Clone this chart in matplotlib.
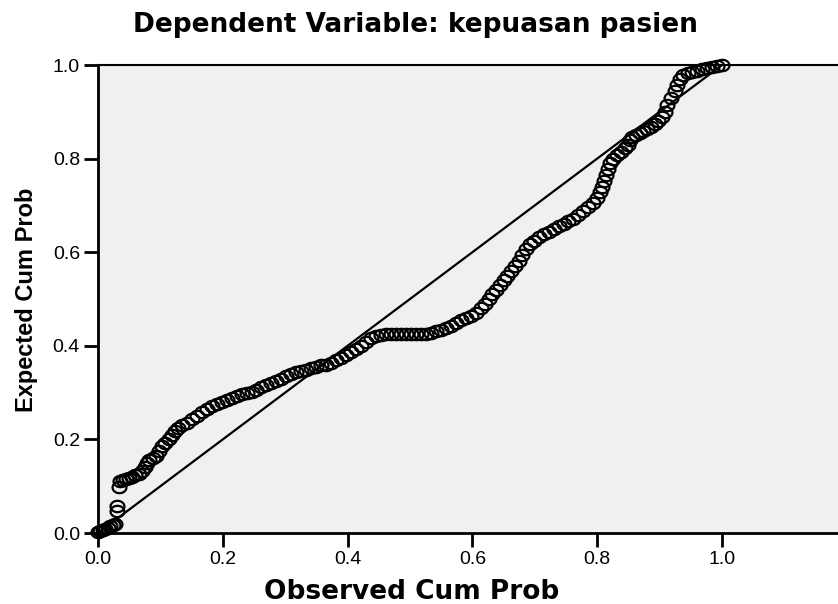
import numpy as np
import matplotlib
matplotlib.use("Agg")
import matplotlib.pyplot as plt
from matplotlib.path import Path

title = "Dependent Variable: kepuasan pasien"
xlabel = "Observed Cum Prob"
ylabel = "Expected Cum Prob"
tick_values = [0.0, 0.2, 0.4, 0.6, 0.8, 1.0]
tick_labels = ["0.0", "0.2", "0.4", "0.6", "0.8", "1.0"]

observed = [
    0.000, 0.004, 0.008, 0.012, 0.016, 0.020, 0.024, 0.028,
    0.030, 0.031, 0.034,
    0.036, 0.040, 0.045, 0.050, 0.055, 0.060, 0.065, 0.070, 0.075, 0.078,
    0.082, 0.088, 0.093, 0.098, 0.103, 0.108, 0.113, 0.118, 0.123, 0.128,
    0.135, 0.142, 0.150, 0.158, 0.166, 0.174, 0.182, 0.190, 0.198, 0.206,
    0.214, 0.222, 0.230, 0.238, 0.246, 0.254, 0.262, 0.270, 0.278, 0.286,
    0.294, 0.302, 0.310, 0.318, 0.326, 0.334, 0.342, 0.350, 0.358, 0.366,
    0.374, 0.382, 0.390, 0.398, 0.406, 0.414, 0.422, 0.430, 0.438, 0.446,
    0.454, 0.462, 0.470, 0.478, 0.486, 0.494, 0.502, 0.510, 0.518, 0.526,
    0.534, 0.542, 0.550, 0.558, 0.566, 0.574, 0.582, 0.590, 0.598, 0.606,
    0.614, 0.620, 0.626, 0.632, 0.638, 0.644, 0.650, 0.656, 0.662, 0.668,
    0.674, 0.680, 0.686, 0.692, 0.698, 0.706, 0.714, 0.722, 0.730, 0.738,
    0.746, 0.754, 0.762, 0.770, 0.778, 0.786, 0.794, 0.800, 0.804, 0.808,
    0.811, 0.814, 0.817, 0.821, 0.826, 0.832, 0.838, 0.845, 0.850, 0.852,
    0.856, 0.862, 0.868, 0.874, 0.880, 0.886, 0.892, 0.898, 0.904, 0.908,
    0.912, 0.918, 0.924, 0.928, 0.932, 0.938, 0.945, 0.952, 0.960, 0.968,
    0.976, 0.984, 0.992, 1.000,
]
expected = [
    0.002, 0.004, 0.006, 0.009, 0.011, 0.014, 0.017, 0.020,
    0.047, 0.058, 0.098,
    0.112, 0.114, 0.116, 0.118, 0.120, 0.123, 0.127, 0.132, 0.140, 0.150,
    0.157, 0.160, 0.165, 0.175, 0.185, 0.192, 0.200, 0.210, 0.218, 0.225,
    0.230, 0.236, 0.243, 0.250, 0.258, 0.265, 0.272, 0.276, 0.280, 0.284,
    0.288, 0.292, 0.296, 0.299, 0.302, 0.306, 0.311, 0.316, 0.320, 0.325,
    0.330, 0.335, 0.339, 0.343, 0.346, 0.349, 0.352, 0.355, 0.358, 0.360,
    0.364, 0.369, 0.375, 0.381, 0.387, 0.393, 0.400, 0.408, 0.416, 0.421,
    0.424, 0.425, 0.425, 0.425, 0.425, 0.425, 0.425, 0.425, 0.425, 0.426,
    0.428, 0.431, 0.434, 0.437, 0.442, 0.448, 0.455, 0.460, 0.464, 0.470,
    0.480, 0.490, 0.500, 0.510, 0.520, 0.530, 0.540, 0.550, 0.560, 0.570,
    0.582, 0.595, 0.607, 0.617, 0.625, 0.632, 0.638, 0.644, 0.650, 0.655,
    0.660, 0.666, 0.672, 0.680, 0.688, 0.696, 0.705, 0.716, 0.728, 0.740,
    0.752, 0.765, 0.778, 0.790, 0.800, 0.808, 0.814, 0.822, 0.830, 0.840,
    0.846, 0.850, 0.854, 0.858, 0.863, 0.868, 0.874, 0.880, 0.888, 0.900,
    0.915, 0.930, 0.945, 0.958, 0.970, 0.978, 0.982, 0.985, 0.988, 0.991,
    0.994, 0.996, 0.998, 1.000,
]

fig = plt.figure(figsize=(8.38, 6.04), dpi=100)
ax = fig.add_axes([98 / 838, 1 - 533 / 604, 1 - 98 / 838, (533 - 65) / 604])
ax.set_facecolor("#F0F0F0")

# slightly flattened circle marker
t = np.linspace(0, 2 * np.pi, 60)
verts = np.column_stack([np.cos(t), 0.82 * np.sin(t)])
ell = Path(verts, closed=True)

ax.plot([0, 1], [0, 1], color="black", lw=1.6, zorder=2)
ax.plot(observed, expected, linestyle="none", marker=ell, markersize=10,
        markerfacecolor="none", markeredgecolor="black", markeredgewidth=1.6,
        zorder=3, clip_on=False)

ax.set_xlim(0, (838 - 98) / 624)
ax.set_ylim(0, 1.0)
ax.set_xticks(tick_values)
ax.set_xticklabels(tick_labels)
ax.set_yticks(tick_values)
ax.set_yticklabels(tick_labels)
ax.tick_params(direction="out", length=10, width=2, labelsize=14, pad=3,
               colors="black")
for lab in ax.get_xticklabels() + ax.get_yticklabels():
    lab.set_family("Liberation Sans")
for s in ["left", "bottom"]:
    ax.spines[s].set_linewidth(2)
ax.spines["top"].set_linewidth(1.5)
ax.spines["right"].set_visible(False)

fig.text((105 + 725) / 2 / 838, 1 - 25 / 604, title, ha="center", va="center",
         fontsize=19, fontweight="bold", family="DejaVu Sans")
fig.text((258 + 566) / 2 / 838, 1 - 592 / 604, xlabel, ha="center", va="center",
         fontsize=19, fontweight="bold", family="DejaVu Sans")
fig.text(27 / 838, 1 - 300 / 604, ylabel, ha="center", va="center", rotation=90,
         fontsize=17, fontweight="bold", family="Liberation Sans")

fig.savefig("out.png", dpi=100)
